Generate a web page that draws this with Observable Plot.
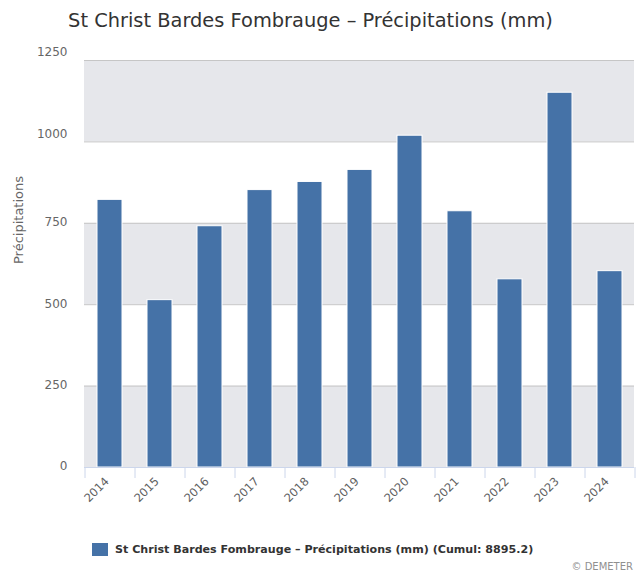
<!DOCTYPE html>
<html>
<head>
<meta charset="utf-8">
<script src="https://cdn.jsdelivr.net/npm/d3@7"></script>
<script src="https://cdn.jsdelivr.net/npm/@observablehq/plot@0.6"></script>
<style>
  html, body { margin: 0; padding: 0; background: #ffffff; }
  body { width: 639px; height: 576px; position: relative; overflow: hidden; font-family: "DejaVu Sans", Verdana, sans-serif; }
  #title { height: 45px; line-height: 41px; text-align: center; font-size: 19.4px; color: #333333; padding-right: 18px; }
  #legend { position: absolute; left: 92px; top: 543px; font-size: 11.1px; font-weight: bold; color: #333333; display: flex; align-items: center; }
  #legend .sw { width: 16px; height: 13px; background: #4572a7; margin-right: 7px; }
  #credit { position: absolute; right: 6px; top: 561px; font-size: 10px; color: #909090; }
</style>
</head>
<body>
<div id="title"></div>
<div id="chart"></div>
<div id="legend"><span class="sw"></span><span id="legendText"></span></div>
<div id="credit"></div>
<script>
const titleText = "St Christ Bardes Fombrauge – Précipitations (mm)";
const yAxisTitle = "Précipitations";
const legendLabel = "St Christ Bardes Fombrauge – Précipitations (mm) (Cumul: 8895.2)";
const creditText = "© DEMETER";

const years = ["2014","2015","2016","2017","2018","2019","2020","2021","2022","2023","2024"];
const rainfall = [822, 514, 741, 852, 877, 914, 1019, 787, 578, 1151, 603];
const yTicksLow = [0, 250, 500, 750];
const yTicksHigh = [1000, 1250];
const shadedBands = [[0, 250], [500, 750], [1000, 1250]];

document.getElementById("title").textContent = titleText;
document.getElementById("legendText").textContent = legendLabel;
document.getElementById("credit").textContent = creditText;

const data = years.map((y, i) => ({year: y, value: rainfall[i]}));
const yTicks = yTicksLow.concat(yTicksHigh);

const chart = Plot.plot({
  width: 639,
  height: 485,
  marginTop: 15,
  marginBottom: 63,
  marginLeft: 84,
  marginRight: 5,
  style: {fontFamily: "DejaVu Sans, Verdana, sans-serif", fontSize: "12px", color: "#666666", background: "#ffffff"},
  x: {domain: years, paddingInner: 0.5, paddingOuter: 0.25, axis: null, label: null},
  y: {domain: [0, 1250], axis: null, label: null},
  marks: [
    Plot.rect(shadedBands, {y1: d => d[0], y2: d => d[1], fill: "#e6e7eb"}),
    Plot.ruleY(yTicks.filter(t => t > 0), {stroke: "#c6c6c6", strokeWidth: 1}),
    Plot.barY(data, {x: "year", y: "value", fill: "#4572a7", stroke: "#ffffff", strokeWidth: 1}),
    Plot.ruleY([0], {stroke: "#ccd6eb", strokeWidth: 1}),
    Plot.axisX({tickSize: 11, text: null, dx: -25, stroke: "#ccd6eb", label: null}),
    Plot.axisX([years[years.length - 1]], {tickSize: 11, text: null, dx: 25, stroke: "#ccd6eb", label: null}),
    Plot.axisX({tickSize: 0, tickPadding: 12, tickRotate: -45, dx: -3, fontSize: 11.5, fill: "#606060", label: null}),
    Plot.axisY(yTicksLow, {tickFormat: d => String(d), tickSize: 0, tickPadding: 17, label: null, fontSize: 12, fill: "#666666", dy: -1}),
    Plot.axisY(yTicksHigh, {tickFormat: d => String(d), tickSize: 0, tickPadding: 17, label: null, fontSize: 12, fill: "#666666", dy: -8}),
    Plot.text([yAxisTitle], {frameAnchor: "left", rotate: -90, dx: -66, fontSize: 13, fill: "#666666"})
  ]
});
document.getElementById("chart").appendChild(chart);
</script>
</body>
</html>
